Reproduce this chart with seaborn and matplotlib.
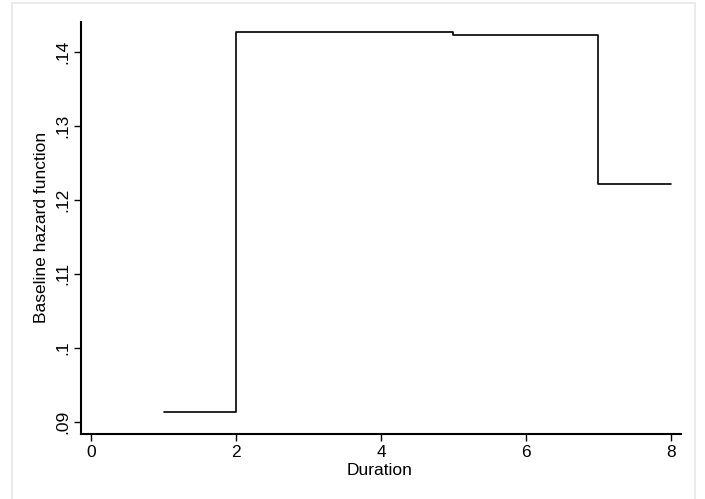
import matplotlib
matplotlib.use("Agg")
import matplotlib.pyplot as plt
import matplotlib.patches as patches
import seaborn as sns
import pandas as pd

# Baseline hazard by duration
duration = [1, 2, 3, 4, 5, 6, 7, 8]
hazard = [0.0913, 0.14262, 0.14262, 0.14262, 0.14222, 0.14222, 0.1222, 0.1222]

x_ticks = [0, 2, 4, 6, 8]
y_ticks = [0.09, 0.10, 0.11, 0.12, 0.13, 0.14]
y_tick_labels = [".09", ".1", ".11", ".12", ".13", ".14"]

sns.set_style("white")
plt.rcParams["font.family"] = ["Liberation Sans", "DejaVu Sans"]
plt.rcParams["text.color"] = "black"
plt.rcParams["axes.labelcolor"] = "black"
plt.rcParams["xtick.color"] = "black"
plt.rcParams["ytick.color"] = "black"

df = pd.DataFrame({"Duration": duration, "hazard": hazard})

fig = plt.figure(figsize=(7.05, 4.99), dpi=100)
fig.patch.set_facecolor("white")
ax = fig.add_axes([81 / 705, 65 / 499, 600 / 705, 412.3 / 499])

sns.lineplot(data=df, x="Duration", y="hazard", drawstyle="steps-post",
             color="black", linewidth=1.2, ax=ax)

ax.set_xlim(-0.138, 8.138)
ax.set_ylim(0.08838, 0.14405)

ax.set_xticks(x_ticks)
ax.set_xticklabels([str(t) for t in x_ticks], fontsize=12.5)
ax.set_yticks(y_ticks)
ax.set_yticklabels(y_tick_labels, fontsize=12.5, rotation=90, va="center")

ax.tick_params(axis="both", direction="out", length=5, width=1, color="black",
               labelcolor="black", bottom=True, left=True)
ax.tick_params(axis="x", pad=3)
ax.tick_params(axis="y", pad=3)

for side in ["top", "right"]:
    ax.spines[side].set_visible(False)
for side in ["left", "bottom"]:
    ax.spines[side].set_color("black")
    ax.spines[side].set_linewidth(1.5)

ax.set_xlabel("Duration", fontsize=12.5, color="black")
ax.set_ylabel("Baseline hazard function", fontsize=12.5, color="black")
ax.xaxis.set_label_coords(0.497, -0.07)
ax.yaxis.set_label_coords(-0.054, 0.5)

# faint outer frame
frame = patches.Rectangle((12 / 705, -0.1), (695 - 12) / 705, 1.094,
                          transform=fig.transFigure, fill=False,
                          edgecolor="#ebebeb", linewidth=1.5)
fig.patches.append(frame)

fig.savefig("out.png", dpi=100)
